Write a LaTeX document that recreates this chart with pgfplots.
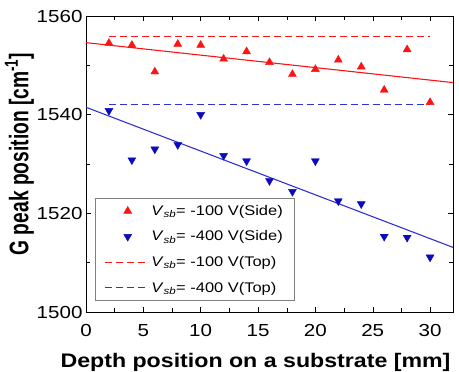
\documentclass[border=0pt]{standalone}
\usepackage{pgfplots}
\pgfplotsset{compat=1.18}
\usepackage{fontspec}
\setmainfont{Liberation Sans}[FakeStretch=1.18]
\newfontfamily\ylabfont{Liberation Sans}
\definecolor{myred}{RGB}{250,20,20}
\definecolor{myblue}{RGB}{10,10,190}
\definecolor{lineblue}{RGB}{50,50,210}
\begin{document}
\begin{tikzpicture}
\begin{axis}[
  scale only axis, width=367bp, height=296bp,
  xmin=0, xmax=32, ymin=1500, ymax=1560,
  xtick={0,5,...,30}, minor x tick num=1,
  ytick={1500,1520,1540,1560}, minor y tick num=1,
  xtick pos=both, ytick pos=both,
  tick align=inside,
  major tick length=5bp, minor tick length=4bp,
  tick style={black, thin},
  axis line style={black, thin},
  /pgf/number format/assume math mode=true,
  /pgf/number format/1000 sep={},
  tick label style={font=\fontsize{17.5}{19}\selectfont},
  xticklabel style={yshift=-9bp},
  xlabel={\textbf{Depth position on a substrate [mm]}},
  ylabel={\ylabfont\scalebox{1}[1.4]{\textbf{G peak position [cm\textsuperscript{-1}]}}},
  xlabel style={font=\fontsize{19.7}{21}\selectfont, yshift=-10bp, xshift=-14bp},
  ylabel style={font=\fontsize{19.3}{21}\selectfont, yshift=-4bp, xshift=10bp},
  legend style={at={(rel axis cs:0.0245,0.385)}, anchor=north west,
    font=\fontsize{14}{16}\selectfont, draw=gray, row sep=10bp,
    inner xsep=9bp, inner ysep=5bp, cells={anchor=west}},
]
% fit lines
\addplot[color=myred, line width=1.1bp, forget plot] coordinates {(0,1554.6) (32,1546.5)};
\addplot[color=lineblue, line width=1.1bp, forget plot] coordinates {(0,1541.5) (32,1513.1)};
% side data
\addplot[only marks, mark=triangle*, mark size=4.6bp, color=myred,
  legend image code/.code={\path[draw=none] (0bp,0bp) -- (44bp,0bp);
    \path[fill=myred, draw=myred] plot[mark=triangle*, mark size=4.6bp, only marks] coordinates {(23bp,0bp)};}]
  coordinates {
  (2,1554.5) (4,1554.1) (6,1548.7) (8,1554.3) (10,1554.1) (12,1551.3)
  (14,1552.8) (16,1550.6) (18,1548.2) (20,1549.2) (22,1551.1) (24,1549.7)
  (26,1545.0) (28,1553.2) (30,1542.5)};
\addlegendentry{\textit{V}\textsubscript{\textit{sb}}= -100 V(Side)}
\addplot[only marks, mark=triangle*, mark options={rotate=180}, mark size=4.6bp, color=myblue,
  legend image code/.code={\path[draw=none] (0bp,0bp) -- (44bp,0bp);
    \path[fill=myblue, draw=myblue] plot[mark=triangle*, mark size=4.6bp, mark options={rotate=180}, only marks] coordinates {(23bp,0bp)};}]
  coordinates {
  (2,1540.8) (4,1530.8) (6,1533.0) (8,1533.9) (10,1540.0) (12,1531.7)
  (14,1530.6) (16,1526.6) (18,1524.4) (20,1530.6) (22,1522.5) (24,1521.9)
  (26,1515.3) (28,1515.1) (30,1511.1)};
\addlegendentry{\textit{V}\textsubscript{\textit{sb}}= -400 V(Side)}
% top data
\addplot[color=myred, line width=1.1bp, dash pattern=on 7bp off 4bp,
  legend image code/.code={\draw[myred, line width=1.1bp, dash pattern=on 7bp off 4bp] (0bp,0bp) -- (44bp,0bp);}]
  coordinates {(2,1555.8) (30,1555.8)};
\addlegendentry{\textit{V}\textsubscript{\textit{sb}}= -100 V(Top)}
\addplot[color=lineblue, line width=1.1bp, dash pattern=on 7bp off 4bp,
  legend image code/.code={\draw[lineblue, line width=1.1bp, dash pattern=on 7bp off 4bp] (0bp,0bp) -- (44bp,0bp);}]
  coordinates {(2,1542.0) (30,1542.0)};
\addlegendentry{\textit{V}\textsubscript{\textit{sb}}= -400 V(Top)}
\end{axis}
\pgfresetboundingbox
\path (current axis.south west) ++(-86bp,-60bp) rectangle ++(459bp,372bp);
\end{tikzpicture}
\end{document}
